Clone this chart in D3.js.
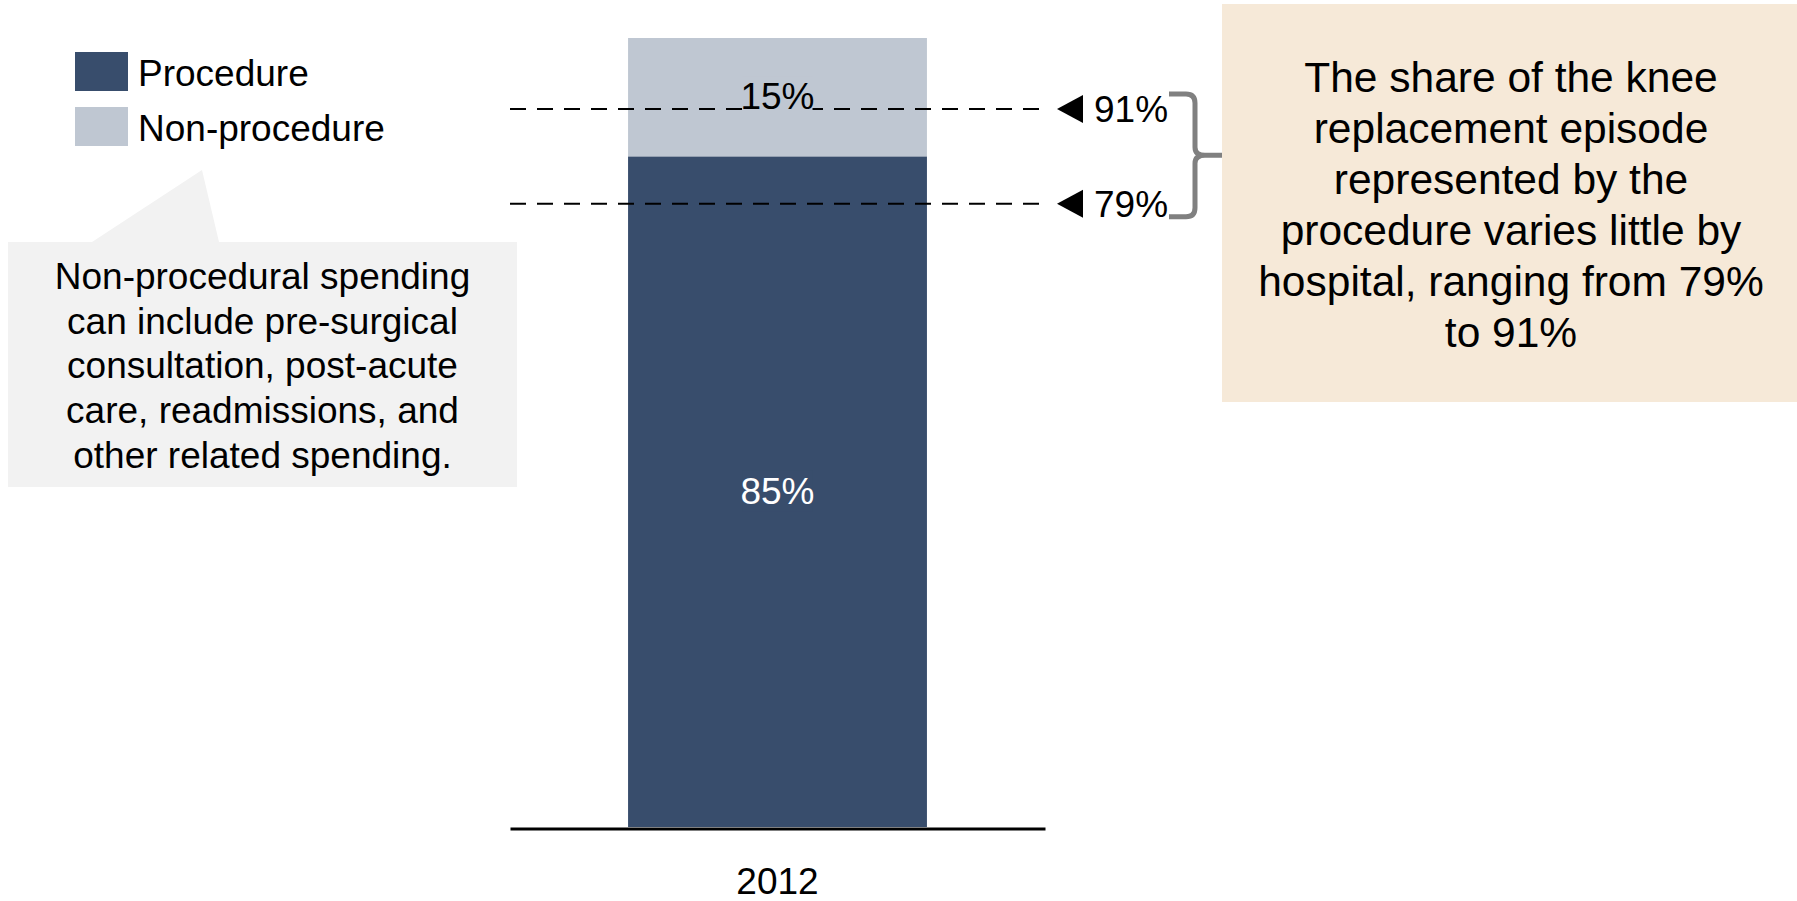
<!DOCTYPE html>
<html>
<head>
<meta charset="utf-8">
<script src="https://cdn.jsdelivr.net/npm/d3@7"></script>
<style>
  html, body { margin: 0; padding: 0; background: #ffffff; }
  svg { display: block; font-family: "Liberation Sans", Arial, Helvetica, sans-serif; }
</style>
</head>
<body>
<svg id="chart" width="1797" height="901"></svg>
<script>
// Episode spending split for knee replacement
const categories = ["2012"];
const procedure = [85];
const nonProcedure = [15];
const seriesNames = ["Procedure", "Non-procedure"];
const seriesColors = ["#384d6c", "#bfc7d2"];
// Range of procedure share across hospitals
const hospitalRange = [79, 91];
const calloutLines = [
  "Non-procedural spending",
  "can include pre-surgical",
  "consultation, post-acute",
  "care, readmissions, and",
  "other related spending."
];
const noteLines = [
  "The share of the knee",
  "replacement episode",
  "represented by the",
  "procedure varies little by",
  "hospital, ranging from 79%",
  "to 91%"
];

const svg = d3.select("#chart");

const x = d3.scaleBand().domain(categories).range([510, 1045]).paddingInner(0).paddingOuter(0.395);
const y = d3.scaleLinear().domain([0, 100]).range([827, 38]);

const rows = categories.map((c, i) => ({ cat: c, Procedure: procedure[i], "Non-procedure": nonProcedure[i] }));
const stacked = d3.stack().keys(seriesNames)(rows);

// stacked bar segments
const layers = svg.append("g").selectAll("g").data(stacked).join("g")
  .attr("fill", (d, i) => seriesColors[i]);
layers.selectAll("rect").data(d => d).join("rect")
  .attr("x", d => x(d.data.cat))
  .attr("width", x.bandwidth())
  .attr("y", d => y(d[1]))
  .attr("height", d => y(d[0]) - y(d[1]));

// category axis
const axis = svg.append("g").attr("transform", "translate(0,828.5)")
  .call(d3.axisBottom(x).tickSize(0).tickSizeOuter(0).tickPadding(39));
axis.select(".domain").attr("stroke", "#000").attr("stroke-width", 3);
axis.selectAll("text").attr("font-size", 37).attr("fill", "#000")
  .attr("font-family", "\"Liberation Sans\", Arial, sans-serif");

// hospital range reference lines
const refG = svg.append("g");
hospitalRange.forEach(v => {
  const yy = y(v);
  refG.append("line")
    .attr("x1", 510).attr("x2", 1045).attr("y1", yy).attr("y2", yy)
    .attr("stroke", "#000").attr("stroke-width", 2).attr("stroke-dasharray", "16,11");
  refG.append("path")
    .attr("d", `M1057,${yy} L1083,${yy - 14} L1083,${yy + 14} Z`)
    .attr("fill", "#000");
  refG.append("text")
    .attr("x", 1094).attr("y", yy + 13)
    .attr("font-size", 37).attr("fill", "#000")
    .text(v + "%");
});

// segment value labels (on a backing of the segment colour so lines stay behind them)
const segLabels = svg.append("g").attr("text-anchor", "middle").attr("font-size", 37);
stacked.forEach((layer, i) => {
  layer.forEach(d => {
    const cx = x(d.data.cat) + x.bandwidth() / 2;
    const cy = (y(d[0]) + y(d[1])) / 2;
    const back = segLabels.append("rect").attr("fill", seriesColors[i]);
    const t = segLabels.append("text")
      .attr("x", cx)
      .attr("y", cy + 12)
      .attr("fill", i === 0 ? "#ffffff" : "#000000")
      .text(d.data[layer.key] + "%");
    const bb = t.node().getBBox();
    back.attr("x", bb.x + 2).attr("y", bb.y).attr("width", bb.width - 4).attr("height", bb.height);
  });
});

// brace joining the range to the note
const yTop = y(hospitalRange[1]) - 15, yBot = y(hospitalRange[0]) + 13;
const yMid = (yTop + yBot) / 2;
svg.append("path")
  .attr("d", `M1169,${yTop} L1186,${yTop} Q1195,${yTop} 1195,${yTop + 9} L1195,${yMid - 8} Q1195,${yMid} 1205,${yMid} L1223,${yMid}
              M1205,${yMid} Q1195,${yMid} 1195,${yMid + 8} L1195,${yBot - 9} Q1195,${yBot} 1186,${yBot} L1169,${yBot}`)
  .attr("fill", "none").attr("stroke", "#808080").attr("stroke-width", 5).attr("stroke-linejoin", "round");

// note box
svg.append("rect").attr("x", 1222).attr("y", 4).attr("width", 580).attr("height", 398).attr("fill", "#f6e9d8");
svg.append("g").attr("text-anchor", "middle").attr("font-size", 42.5).attr("fill", "#000")
  .selectAll("text").data(noteLines).join("text")
  .attr("x", 1511).attr("y", (d, i) => 92 + i * 51)
  .text(d => d);

// legend
const legend = svg.append("g");
seriesNames.forEach((name, i) => {
  legend.append("rect").attr("x", 75).attr("y", 52 + i * 55).attr("width", 53).attr("height", 39)
    .attr("fill", seriesColors[i]);
  legend.append("text").attr("x", 138).attr("y", 86 + i * 55).attr("font-size", 37).attr("fill", "#000")
    .text(name);
});

// callout explaining non-procedural spending
svg.append("path")
  .attr("d", "M8,242 L92,242 L202,170 L219,242 L517,242 L517,487 L8,487 Z")
  .attr("fill", "#f2f2f2");
svg.append("g").attr("text-anchor", "middle").attr("font-size", 37).attr("fill", "#000")
  .selectAll("text").data(calloutLines).join("text")
  .attr("x", 262.5).attr("y", (d, i) => 289 + i * 44.7)
  .text(d => d);
</script>
</body>
</html>
